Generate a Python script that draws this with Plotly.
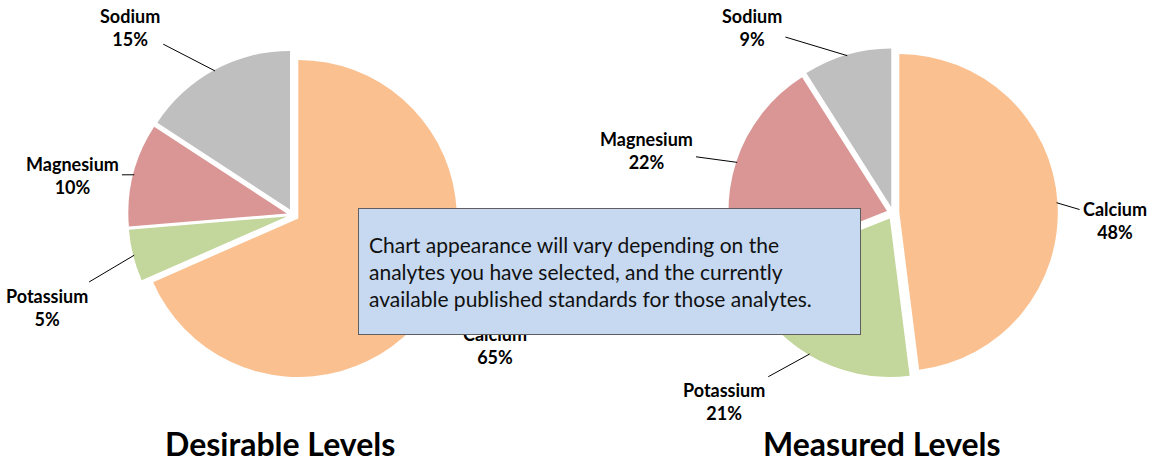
import math
import plotly.graph_objects as go

analytes = ["Calcium", "Potassium", "Magnesium", "Sodium"]
desirable_values = [65, 5, 10, 15]
desirable_pct = ["65%", "5%", "10%", "15%"]
measured_values = [48, 21, 22, 9]
measured_pct = ["48%", "21%", "22%", "9%"]
colors = ["#FAC090", "#C3D69B", "#D99694", "#BFBFBF"]

chart_titles = ["Desirable Levels", "Measured Levels"]
note_text = ("Chart appearance will vary depending on the<br>"
             "analytes you have selected, and the currently<br>"
             "available published standards for those analytes.")

# ---- layout / style constants (pixels) ----
W, H = 1158, 462
FONT = "Lato"
PULL = 0.04
R = 158.5                          # pie radius in px
CENTERS = [(293, 215), (893, 213)]  # pie centres in px
TITLE_POS = [(280, 443), (882, 443)]
# label centres (px) in the order of `analytes`
LABEL_POS = [
    [(495, 345), (47, 307), (72, 175), (130, 27)],
    [(1115, 220), (724, 401), (646, 150), (752, 27)],
]
NOTE_BOX = dict(x0=358, y0=208, x1=861, y1=335)


def px_to_paper(x, y):
    return x / W, 1 - y / H


def pie(values, pct, center):
    half = R * (1 + PULL)
    x0, y1 = px_to_paper(center[0] - half, center[1] - half)
    x1, y0 = px_to_paper(center[0] + half, center[1] + half)
    return go.Pie(
        labels=analytes, values=values, text=pct,
        sort=False, direction="clockwise", rotation=0,
        marker=dict(colors=colors, line=dict(color="white", width=0)),
        pull=[PULL] * len(values),
        textinfo="none",
        domain=dict(x=[x0, x1], y=[y0, y1]), showlegend=False,
        hoverinfo="label+text",
    )


fig = go.Figure()
datasets = [(desirable_values, desirable_pct), (measured_values, measured_pct)]
for k, (vals, pct) in enumerate(datasets):
    fig.add_trace(pie(vals, pct, CENTERS[k]))

# data labels with leader lines (slice mid-angles derived from the values)
for k, (vals, pct) in enumerate(datasets):
    total = float(sum(vals))
    cum = 0.0
    cx, cy = CENTERS[k]
    for i, v in enumerate(vals):
        mid = (cum + v / 2.0) / total * 2 * math.pi
        cum += v
        rr = R * (1 + PULL) - 1
        hx = cx + rr * math.sin(mid)
        hy = cy - rr * math.cos(mid)
        lx, ly = LABEL_POS[k][i]
        px_, py_ = px_to_paper(hx, hy)
        fig.add_annotation(
            x=px_, y=py_, xref="paper", yref="paper",
            ax=lx - hx, ay=ly - hy, axref="pixel", ayref="pixel",
            text="<b>%s</b><br><b>%s</b>" % (analytes[i], pct[i]),
            showarrow=True, arrowhead=0, arrowwidth=1, arrowcolor="#000000",
            standoff=0, startstandoff=2,
            font=dict(family=FONT, size=18, color="#000000"), align="center",
        )

for k, t in enumerate(chart_titles):
    tx, ty = px_to_paper(*TITLE_POS[k])
    fig.add_annotation(x=tx, y=ty, xref="paper", yref="paper",
                       xanchor="center", yanchor="middle",
                       text="<b>%s</b>" % t, showarrow=False,
                       font=dict(family=FONT, size=32, color="#000000"))

# note box (drawn last so it covers the label underneath)
BW, PAD = 1, 10
nx, ny = px_to_paper(NOTE_BOX["x0"], NOTE_BOX["y0"])
fig.add_annotation(
    x=nx, y=ny, xref="paper", yref="paper", xanchor="left", yanchor="top",
    text=note_text, showarrow=False, align="left", valign="middle",
    width=NOTE_BOX["x1"] - NOTE_BOX["x0"] - 2 * (BW + PAD),
    height=NOTE_BOX["y1"] - NOTE_BOX["y0"] - 2 * (BW + PAD),
    bgcolor="#C6D9F1", bordercolor="#5f5f5f", borderwidth=BW, borderpad=PAD,
    font=dict(family=FONT, size=21, color="#111111"),
)

fig.update_layout(width=W, height=H, margin=dict(l=0, r=0, t=0, b=0),
                  paper_bgcolor="white", plot_bgcolor="white")

fig.write_html("out.html", config={"displayModeBar": False},
               post_script="document.body.style.margin='0';")
